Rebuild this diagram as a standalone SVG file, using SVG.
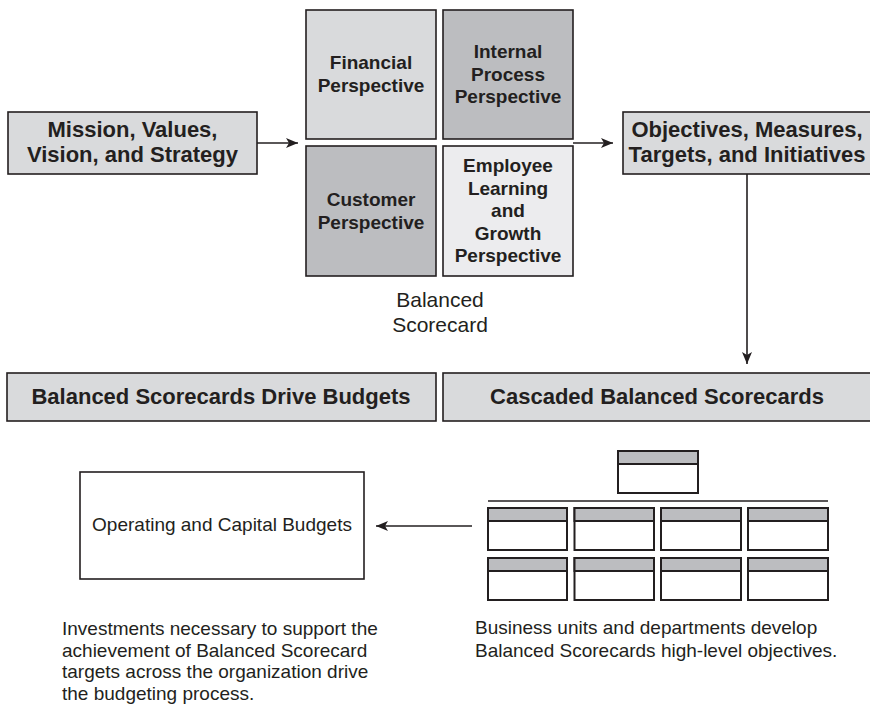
<svg xmlns="http://www.w3.org/2000/svg" width="870" height="704" viewBox="0 0 870 704">
<defs>
<style>
.box{stroke:#231f20;stroke-width:1.6}
.light{fill:#d9dadc}
.dark{fill:#bcbdc0}
.pale{fill:#ececee}
.white{fill:#ffffff}
.sm{stroke:#231f20;stroke-width:2}
.b{font-family:"Liberation Sans",Arial,sans-serif;font-weight:bold;fill:#231f20;text-anchor:middle}
.r{font-family:"Liberation Sans",Arial,sans-serif;fill:#231f20}
.ln{stroke:#231f20;stroke-width:1.6;fill:none}
</style>
<marker id="ah" viewBox="0 0 12 10" refX="12" refY="5" markerWidth="12" markerHeight="10" markerUnits="userSpaceOnUse" orient="auto">
<path d="M0,0 L12,5 L0,10 L3,5 Z" fill="#231f20"/>
</marker>
</defs>
<rect width="870" height="704" fill="#ffffff"/>

<g id="mission">
<rect class="box light" x="8" y="112" width="249" height="62"/>
<text class="b" font-size="22" x="132.5" y="137">Mission, Values,</text>
<text class="b" font-size="22" x="132.5" y="162">Vision, and Strategy</text>
</g>

<g id="financial">
<rect class="box light" x="306" y="10" width="130" height="129"/>
<text class="b" font-size="19" x="371" y="69">Financial</text>
<text class="b" font-size="19" x="371" y="92">Perspective</text>
</g>

<g id="internal">
<rect class="box dark" x="443" y="10" width="130" height="129"/>
<text class="b" font-size="19" x="508" y="58">Internal</text>
<text class="b" font-size="19" x="508" y="80.5">Process</text>
<text class="b" font-size="19" x="508" y="103">Perspective</text>
</g>

<g id="customer">
<rect class="box dark" x="306" y="146" width="130" height="130"/>
<text class="b" font-size="19" x="371" y="206">Customer</text>
<text class="b" font-size="19" x="371" y="228.5">Perspective</text>
</g>

<g id="employee">
<rect class="box pale" x="443" y="146" width="130" height="130"/>
<text class="b" font-size="19" x="508" y="172">Employee</text>
<text class="b" font-size="19" x="508" y="194.5">Learning</text>
<text class="b" font-size="19" x="508" y="217">and</text>
<text class="b" font-size="19" x="508" y="239.5">Growth</text>
<text class="b" font-size="19" x="508" y="262">Perspective</text>
</g>

<g id="bsc-label">
<text class="r" font-size="21" text-anchor="middle" x="440" y="307">Balanced</text>
<text class="r" font-size="21" text-anchor="middle" x="440" y="332">Scorecard</text>
</g>

<g id="objectives">
<rect class="box light" x="623" y="112" width="252" height="62"/>
<text class="b" font-size="22" x="747" y="136.5">Objectives, Measures,</text>
<text class="b" font-size="22" x="747" y="161.5">Targets, and Initiatives</text>
</g>

<g id="drive-budgets">
<rect class="box light" x="7" y="373" width="429" height="48"/>
<text class="b" font-size="22" x="221" y="404">Balanced Scorecards Drive Budgets</text>
</g>

<g id="cascaded">
<rect class="box light" x="443" y="373" width="432" height="48"/>
<text class="b" font-size="22" x="657" y="404">Cascaded Balanced Scorecards</text>
</g>

<g id="budgets">
<rect class="box white" x="80" y="472" width="284" height="107"/>
<text class="r" font-size="19" text-anchor="middle" x="222" y="531">Operating and Capital Budgets</text>
</g>

<g id="cascade-chart">
<rect class="sm white" x="618" y="451" width="80" height="42"/>
<rect class="sm dark" x="618" y="451" width="80" height="13"/>
<line class="ln" x1="488" y1="501" x2="828" y2="501"/>
<rect class="sm white" x="488" y="508" width="79" height="42"/>
<rect class="sm dark" x="488" y="508" width="79" height="13"/>
<rect class="sm white" x="574.5" y="508" width="79.5" height="42"/>
<rect class="sm dark" x="574.5" y="508" width="79.5" height="13"/>
<rect class="sm white" x="661" y="508" width="80" height="42"/>
<rect class="sm dark" x="661" y="508" width="80" height="13"/>
<rect class="sm white" x="748" y="508" width="80" height="42"/>
<rect class="sm dark" x="748" y="508" width="80" height="13"/>
<rect class="sm white" x="488" y="558" width="79" height="42"/>
<rect class="sm dark" x="488" y="558" width="79" height="13"/>
<rect class="sm white" x="574.5" y="558" width="79.5" height="42"/>
<rect class="sm dark" x="574.5" y="558" width="79.5" height="13"/>
<rect class="sm white" x="661" y="558" width="80" height="42"/>
<rect class="sm dark" x="661" y="558" width="80" height="13"/>
<rect class="sm white" x="748" y="558" width="80" height="42"/>
<rect class="sm dark" x="748" y="558" width="80" height="13"/>
</g>

<g id="note-left">
<text class="r" font-size="19" x="62" y="635">Investments necessary to support the</text>
<text class="r" font-size="19" x="62" y="656.5">achievement of Balanced Scorecard</text>
<text class="r" font-size="19" x="62" y="678">targets across the organization drive</text>
<text class="r" font-size="19" x="62" y="699.5">the budgeting process.</text>
</g>

<g id="note-right">
<text class="r" font-size="19" x="475" y="634">Business units and departments develop</text>
<text class="r" font-size="19" x="475" y="657">Balanced Scorecards high-level objectives.</text>
</g>

<g id="connectors">
<line class="ln" x1="257" y1="143" x2="298" y2="143" marker-end="url(#ah)"/>
<line class="ln" x1="573" y1="143" x2="613" y2="143" marker-end="url(#ah)"/>
<line class="ln" x1="747" y1="174" x2="747" y2="364" marker-end="url(#ah)"/>
<line class="ln" x1="472" y1="526" x2="376" y2="526" marker-end="url(#ah)"/>
</g>
</svg>
